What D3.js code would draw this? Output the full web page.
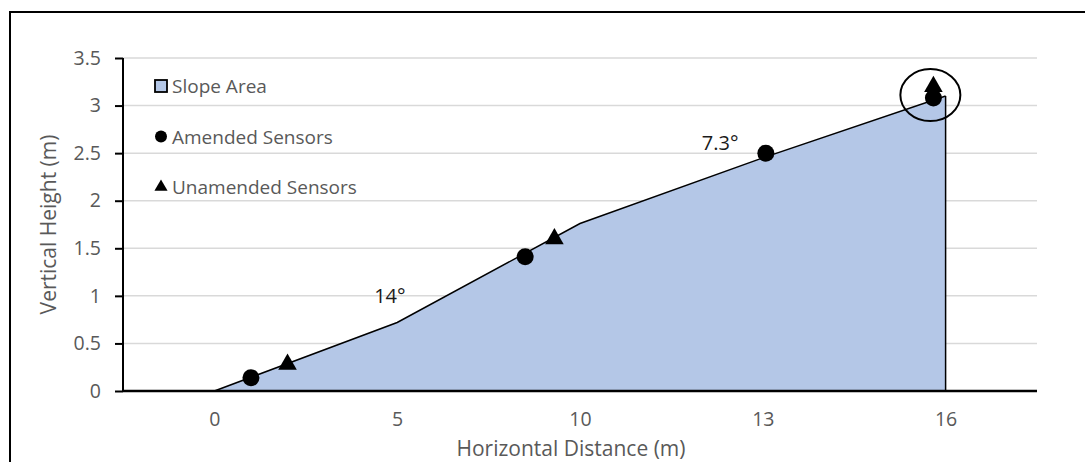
<!DOCTYPE html>
<html>
<head>
<meta charset="utf-8">
<script src="https://cdn.jsdelivr.net/npm/d3@7"></script>
<style>
  html, body { margin: 0; padding: 0; background: #fff; }
  svg { display: block; }
  text { font-family: "Open Sans", Lato, sans-serif; }
</style>
</head>
<body>
<svg id="chart" width="1085" height="462"></svg>
<script>
// Slope profile (horizontal distance in m, vertical height in m)
const profileDistance = [0, 5, 10, 13, 16];
const profileHeight = [0, 0.72, 1.76, 2.45, 3.1];

// Sensor positions
const amendedDistance = [1.0, 8.5, 13.05, 15.8];
const amendedHeight = [0.14, 1.41, 2.5, 3.08];
const unamendedDistance = [2.0, 9.3, 15.8];
const unamendedHeight = [0.28, 1.6, 3.2];

// Axis ticks
const xTicks = [0, 5, 10, 13, 16];
const xTickLabels = ["0", "5", "10", "13", "16"];
const yTicks = [0, 0.5, 1, 1.5, 2, 2.5, 3, 3.5];

// Slope angle annotations
const angleLabels = ["14°", "7.3°"];
const angleDistance = [4.8, 12.3];
const angleHeight = [0.93, 2.53];

// Highlighted sensor pair
const highlightDistance = [15.75];
const highlightHeight = [3.11];

const legendLabels = ["Slope Area", "Amended Sensors", "Unamended Sensors"];

const svg = d3.select("#chart");
const W = 1085, H = 462;
const plot = { left: 123, right: 1037, top: 58, bottom: 391 };

const tickColor = "#595959";
const font = "'Open Sans', Lato, sans-serif";

// Frame
svg.append("path")
  .attr("d", `M10,${H} L10,12 L${W},12`)
  .attr("fill", "none").attr("stroke", "#000").attr("stroke-width", 2);

// Evenly spaced tick positions with a half step of margin at each end
const step = (plot.right - plot.left) / xTicks.length;
const xDomain = [xTicks[0] - (xTicks[1] - xTicks[0]) / 2, ...xTicks,
  xTicks[xTicks.length - 1] + (xTicks[xTicks.length - 1] - xTicks[xTicks.length - 2]) / 2];
const xRange = [plot.left, ...xTicks.map((d, i) => plot.left + step * (i + 0.5)), plot.right];
const x = d3.scaleLinear().domain(xDomain).range(xRange);
const y = d3.scaleLinear().domain([0, 3.5]).range([plot.bottom, plot.top]);

// Gridlines
svg.append("g").selectAll("line").data(yTicks.filter(d => d > 0)).join("line")
  .attr("x1", plot.left).attr("x2", plot.right)
  .attr("y1", d => y(d)).attr("y2", d => y(d))
  .attr("stroke", "#d9d9d9").attr("stroke-width", 1.5);

// Slope area
const profile = profileDistance.map((d, i) => [d, profileHeight[i]]);
const area = d3.area().x(d => x(d[0])).y0(y(0)).y1(d => y(d[1]));
svg.append("path").datum(profile)
  .attr("d", area).attr("fill", "#b4c7e7");
svg.append("path").datum(profile)
  .attr("d", d3.line().x(d => x(d[0])).y(d => y(d[1])))
  .attr("fill", "none").attr("stroke", "#000").attr("stroke-width", 1.5);
const last = profile[profile.length - 1];
svg.append("line")
  .attr("x1", x(last[0])).attr("x2", x(last[0]))
  .attr("y1", y(last[1])).attr("y2", y(0))
  .attr("stroke", "#000").attr("stroke-width", 1.5);

// Y axis
const yAxis = svg.append("g").attr("transform", `translate(${plot.left},0)`)
  .call(d3.axisLeft(y).tickValues(yTicks).tickSize(8).tickPadding(14)
    .tickFormat(d => String(d)));
yAxis.select(".domain").attr("stroke", "#000").attr("stroke-width", 2)
  .attr("d", `M0,${plot.top}V${plot.bottom}`);
yAxis.selectAll(".tick line").attr("stroke", "#000").attr("stroke-width", 2);
yAxis.selectAll(".tick text").attr("fill", tickColor)
  .style("font-size", "19.5px").style("font-family", font);

// X axis
const xAxis = svg.append("g").attr("transform", `translate(0,${plot.bottom})`)
  .call(d3.axisBottom(x).tickValues(xTicks).tickSize(0).tickPadding(21)
    .tickFormat((d, i) => xTickLabels[i]));
xAxis.select(".domain").attr("stroke", "#000").attr("stroke-width", 2.5)
  .attr("d", `M${plot.left},0H${plot.right}`);
xAxis.selectAll(".tick text").attr("fill", tickColor)
  .style("font-size", "19.5px").style("font-family", font);

// Axis titles
svg.append("text")
  .attr("x", 571).attr("y", 456).attr("text-anchor", "middle")
  .attr("fill", tickColor).style("font-size", "21px")
  .text("Horizontal Distance (m)");
svg.append("text")
  .attr("transform", `translate(56,${(plot.top + plot.bottom) / 2}) rotate(-90)`)
  .attr("text-anchor", "middle")
  .attr("fill", tickColor).style("font-size", "21px")
  .text("Vertical Height (m)");

// Sensors
const circles = amendedDistance.map((d, i) => [d, amendedHeight[i]]);
const triangles = unamendedDistance.map((d, i) => [d, unamendedHeight[i]]);
svg.append("g").selectAll("circle").data(circles).join("circle")
  .attr("cx", d => x(d[0])).attr("cy", d => y(d[1])).attr("r", 8.5)
  .attr("fill", "#000");
const tri = d3.symbol().type(d3.symbolTriangle).size(150);
svg.append("g").selectAll("path").data(triangles).join("path")
  .attr("transform", d => `translate(${x(d[0])},${y(d[1])})`)
  .attr("d", tri).attr("fill", "#000");

// Highlight ring
svg.append("g").selectAll("ellipse").data(highlightDistance).join("ellipse")
  .attr("cx", (d, i) => x(d)).attr("cy", (d, i) => y(highlightHeight[i]))
  .attr("rx", 30).attr("ry", 26)
  .attr("fill", "none").attr("stroke", "#000").attr("stroke-width", 2);

// Angle labels
svg.append("g").selectAll("text").data(angleLabels).join("text")
  .attr("x", (d, i) => x(angleDistance[i])).attr("y", (d, i) => y(angleHeight[i]))
  .attr("text-anchor", "middle").attr("fill", "#1a1a1a")
  .style("font-size", "20px")
  .text(d => d);

// Legend
const legend = svg.append("g").attr("transform", "translate(161,86)");
const rows = legend.selectAll("g").data(legendLabels).join("g")
  .attr("transform", (d, i) => `translate(0,${i * 50.5})`);
rows.filter((d, i) => i === 0).append("rect")
  .attr("x", -6).attr("y", -6).attr("width", 12).attr("height", 12)
  .attr("fill", "#b4c7e7").attr("stroke", "#000").attr("stroke-width", 1.8);
rows.filter((d, i) => i === 1).append("circle")
  .attr("r", 6).attr("fill", "#000");
rows.filter((d, i) => i === 2).append("path")
  .attr("d", d3.symbol().type(d3.symbolTriangle).size(75)).attr("fill", "#000");
rows.append("text")
  .attr("x", 11).attr("y", 7)
  .attr("fill", tickColor).style("font-size", "19px")
  .text(d => d);
</script>
</body>
</html>
